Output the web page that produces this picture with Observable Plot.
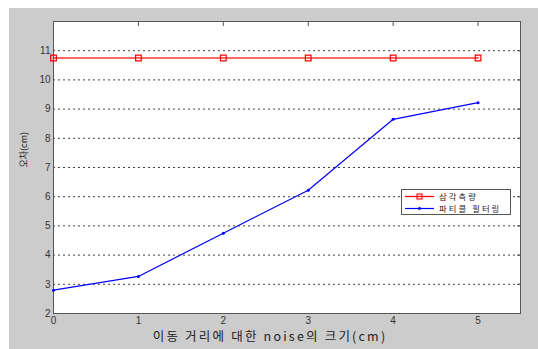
<!DOCTYPE html>
<html>
<head>
<meta charset="utf-8">
<script src="https://cdn.jsdelivr.net/npm/d3@7"></script>
<script src="https://cdn.jsdelivr.net/npm/@observablehq/plot@0.6"></script>
<style>
  html, body { margin: 0; padding: 0; background: #fff; }
  #wrap { position: relative; width: 538px; height: 349px; overflow: hidden; }
  #bg { position: absolute; left: 9px; top: 8px; width: 529px; height: 341px; background: #cccccc; }
  #chart { position: absolute; left: 0; top: 0; }
  #legend { position: absolute; left: 401px; top: 189px; width: 110px; height: 26px; background: #fff;
            border: 1px solid #555; box-sizing: border-box;
            font-family: "Noto Sans CJK KR", "Liberation Sans", sans-serif; font-size: 8.3px; color: #222;
            letter-spacing: 2.1px; line-height: 12px; }
  .row { position: absolute; left: 3px; height: 12px; display: flex; align-items: center; white-space: nowrap; }
  .row svg { margin-right: 5px; flex: none; }
  .row span { display: block; height: 12px; line-height: 12px; }
</style>
</head>
<body>
<div id="wrap">
  <div id="bg"></div>
  <div id="chart"></div>
  <div id="legend"></div>
</div>
<script>
const xValues = [0, 1, 2, 3, 4, 5];
const seriesNames = ["삼각측량", "파티클 필터링"];
const triangulation = [10.75, 10.75, 10.75, 10.75, 10.75, 10.75];
const particleFilter = [2.8, 3.27, 4.75, 6.22, 8.65, 9.22];
const xTicks = [0, 1, 2, 3, 4, 5];
const yTicks = [2, 3, 4, 5, 6, 7, 8, 9, 10, 11];
const xLabel = "이동 거리에 대한 noise의 크기(cm)";
const yLabel = "오차(cm)";
const colors = ["#ff0000", "#0000ff"];

const red = xValues.map((x, i) => ({x, y: triangulation[i]}));
const blue = xValues.map((x, i) => ({x, y: particleFilter[i]}));

const font = "'Liberation Sans', 'Noto Sans CJK KR', sans-serif";

const chart = Plot.plot({
  width: 538,
  height: 349,
  marginLeft: 53,
  marginRight: 18,
  marginTop: 21,
  marginBottom: 36,
  style: {background: "transparent", fontFamily: font, fontSize: "10px", color: "#333"},
  x: {domain: [0, 5.5]},
  y: {domain: [2, 12]},
  marks: [
    Plot.frame({fill: "#fff"}),
    Plot.gridY(yTicks, {stroke: "#000", strokeOpacity: 0.75, strokeDasharray: "2,3"}),
    Plot.axisX(xTicks, {anchor: "bottom", tickSize: 0, tickPadding: 3, label: null, fill: "#333"}),
    Plot.axisY(yTicks, {anchor: "left", tickSize: 0, tickPadding: 3, label: null, fill: "#333"}),
    Plot.axisX(xTicks, {anchor: "top", tickSize: -4, tickFormat: () => "", label: null, stroke: "#555"}),
    Plot.axisY(yTicks, {anchor: "right", tickSize: -4, tickFormat: () => "", label: null, stroke: "#555"}),
    Plot.frame({stroke: "#555", strokeWidth: 1}),
    Plot.line(red, {x: "x", y: "y", stroke: colors[0], strokeWidth: 1.6, strokeOpacity: 0.8}),
    Plot.dot(red, {x: "x", y: "y", symbol: "square", r: 3.2, stroke: colors[0], strokeWidth: 1.2, fill: "none"}),
    Plot.line(blue, {x: "x", y: "y", stroke: colors[1], strokeWidth: 1.2}),
    Plot.dot(blue, {x: "x", y: "y", r: 1.5, fill: colors[1], stroke: "none"}),
    Plot.text([xLabel], {frameAnchor: "bottom", dy: 27, dx: -17, fontSize: 12.5, fill: "#222",
      fontFamily: "'Noto Sans CJK KR', sans-serif"}),
    Plot.text([yLabel], {frameAnchor: "left", dx: -29, rotate: -90, fontSize: 9, fill: "#222",
      fontFamily: "'Noto Sans CJK KR', sans-serif"})
  ]
});
// widen the x-axis title's letter spacing as in the reference
d3.select(chart).selectAll("text").filter(function () { return this.textContent === xLabel; })
  .style("letter-spacing", "2.2px");
document.getElementById("chart").appendChild(chart);

// legend
const legend = document.getElementById("legend");
seriesNames.forEach((name, i) => {
  const row = document.createElement("div");
  row.className = "row";
  row.style.top = (i * 12) + "px";
  const sw = i === 0
    ? `<svg width="29" height="9"><line x1="0" x2="29" y1="4.5" y2="4.5" stroke="${colors[0]}" stroke-width="1.3"/><rect x="12" y="2" width="5" height="5" fill="none" stroke="${colors[0]}" stroke-width="1.1"/></svg>`
    : `<svg width="29" height="9"><line x1="0" x2="29" y1="4.5" y2="4.5" stroke="${colors[1]}" stroke-width="1.2"/><circle cx="14.5" cy="4.5" r="1.4" fill="${colors[1]}"/></svg>`;
  row.innerHTML = sw + `<span>${name}</span>`;
  legend.appendChild(row);
});
</script>
</body>
</html>
